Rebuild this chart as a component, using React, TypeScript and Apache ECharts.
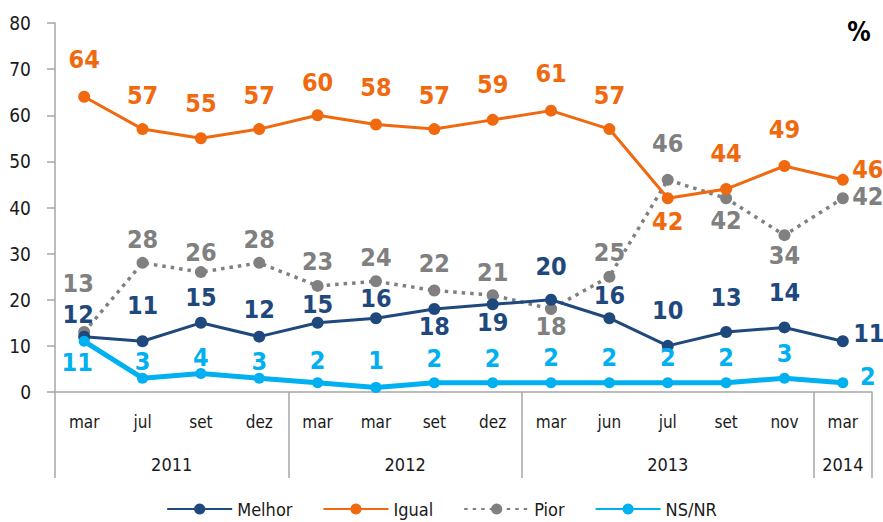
import React, { useEffect, useRef } from "react";
import * as echarts from "echarts";

const months = ["mar", "jul", "set", "dez", "mar", "mar", "set", "dez", "mar", "jun", "jul", "set", "nov", "mar"];
const years = ["2011", "2012", "2013", "2014"];
const yearCounts = [4, 4, 5, 1];

const melhor = [12, 11, 15, 12, 15, 16, 18, 19, 20, 16, 10, 13, 14, 11];
const igual = [64, 57, 55, 57, 60, 58, 57, 59, 61, 57, 42, 44, 49, 46];
const pior = [13, 28, 26, 28, 23, 24, 22, 21, 18, 25, 46, 42, 34, 42];
const nsnr = [11, 3, 4, 3, 2, 1, 2, 2, 2, 2, 2, 2, 3, 2];

// label offsets (px) relative to each point: [dx, dy]
const melhorOff = [[-6, -22], [0, -36], [0, -25], [0, -27], [0, -18], [0, -20], [0, 18], [0, 18], [0, -33], [0, -23], [0, -35], [0, -35], [0, -35], [26, -8]];
const igualOff = [[0, -37], [0, -34], [0, -35], [0, -34], [0, -33], [0, -37], [0, -34], [0, -35], [0, -37], [0, -34], [0, 23], [0, -36], [0, -36], [25, -10]];
const piorOff = [[-6, -49], [0, -23], [0, -20], [0, -23], [0, -24], [0, -24], [0, -27], [0, -23], [0, 18], [0, -24], [0, -36], [0, 22], [0, 20], [25, -2]];
const nsnrOff = [[-7, 21], [0, -17], [0, -16], [0, -17], [0, -22], [0, -27], [0, -24], [0, -24], [0, -25], [0, -25], [0, -25], [0, -25], [0, -25], [25, -6]];

const FONT = "'DejaVu Sans Condensed', 'Liberation Sans Narrow', 'Arial Narrow', sans-serif";

const C_MELHOR = "#1f497d";
const C_IGUAL = "#f0690f";
const C_PIOR = "#808080";
const C_NSNR = "#00b0f0";
const AXIS = "#a6a6a6";
const TXT = "#1a1a1a";

function mkData(vals: number[], offs: number[][], color: string) {
  return vals.map((v, i) => ({
    value: v,
    label: {
      show: true,
      position: "inside",
      offset: offs[i],
      color,
      fontFamily: FONT,
      fontWeight: "bold",
      fontSize: 25,
    },
  }));
}

export default function App() {
  const ref = useRef<HTMLDivElement>(null);
  useEffect(() => {
    if (!ref.current) return;
    const chart = echarts.init(ref.current, null, { renderer: "svg" });

    const bounds: number[] = [0];
    const centers: number[] = [];
    let acc = 0;
    yearCounts.forEach((c) => {
      centers.push(acc + c / 2);
      acc += c;
      bounds.push(acc);
    });

    const mkSeries = (name: string, vals: number[], offs: number[][], color: string, width: number, size: number, z: number, dotted = false) => ({
      name,
      type: "line",
      data: mkData(vals, offs, color),
      symbol: "circle",
      symbolSize: size,
      z,
      itemStyle: { color },
      lineStyle: dotted ? { color, width: 3.5, type: [3.5, 5] } : { color, width },
      emphasis: { disabled: true },
    });

    chart.setOption({
      animation: false,
      backgroundColor: "#ffffff",
      textStyle: { fontFamily: FONT },
      grid: { left: 55, right: 11, top: 23, bottom: 130, containLabel: false },
      legend: {
        top: 495,
        left: "center",
        itemWidth: 65,
        itemHeight: 14,
        itemGap: 30,
        textStyle: { fontFamily: FONT, fontSize: 18, color: TXT },
        data: ["Melhor", "Igual", "Pior", "NS/NR"],
      },
      xAxis: [
        {
          type: "category",
          data: months,
          boundaryGap: true,
          axisLine: { show: true, lineStyle: { color: AXIS, width: 1.5 } },
          axisTick: { show: false },
          axisLabel: { margin: 21, fontSize: 17, color: TXT, fontFamily: FONT, interval: 0 },
          splitLine: { show: false },
        },
        {
          type: "value",
          position: "bottom",
          min: 0,
          max: months.length,
          axisLine: { show: false },
          axisTick: {
            show: true,
            customValues: bounds,
            length: 86,
            lineStyle: { color: AXIS, width: 1.5 },
          },
          axisLabel: {
            show: true,
            customValues: centers,
            margin: 63,
            fontSize: 18,
            color: TXT,
            fontFamily: FONT,
            formatter: (v: number) => {
              const idx = centers.findIndex((c) => Math.abs(c - v) < 1e-6);
              return idx >= 0 ? years[idx] : "";
            },
          },
          splitLine: { show: false },
        },
      ],
      yAxis: {
        type: "value",
        min: 0,
        max: 80,
        interval: 10,
        axisLine: { show: true, lineStyle: { color: AXIS, width: 1.5 } },
        axisTick: { show: true, length: 8, lineStyle: { color: AXIS, width: 1.5 } },
        axisLabel: { margin: 24, fontSize: 19, color: TXT, fontFamily: FONT },
        splitLine: { show: false },
      },
      graphic: [
        {
          type: "text",
          x: 859,
          y: 32,
          style: {
            text: "%",
            fontFamily: FONT,
            fontWeight: "bold",
            fontSize: 26,
            fill: "#000",
            textAlign: "center",
            textVerticalAlign: "middle",
          },
        },
      ],
      series: [
        mkSeries("Melhor", melhor, melhorOff, C_MELHOR, 3, 12, 3),
        mkSeries("Igual", igual, igualOff, C_IGUAL, 3, 12, 3),
        mkSeries("Pior", pior, piorOff, C_PIOR, 3, 12, 2, true),
        mkSeries("NS/NR", nsnr, nsnrOff, C_NSNR, 5, 11, 4),
      ],
    });
    return () => chart.dispose();
  }, []);
  return <div ref={ref} style={{ position: "absolute", left: 0, top: 0, width: 883, height: 522 }} />;
}
